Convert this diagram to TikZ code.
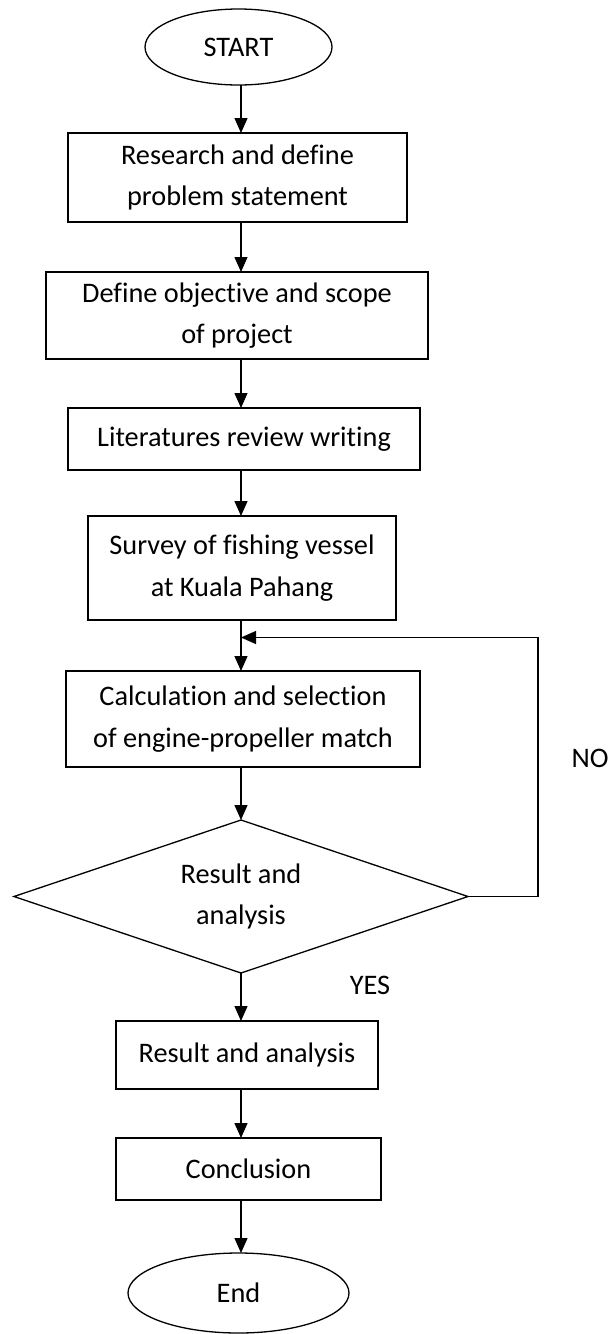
\documentclass[tikz,border=0pt]{standalone}
\usepackage{fontspec}
\setmainfont[Ligatures=CommonOff]{Carlito}
\usepackage{tikz}
\usetikzlibrary{shapes.geometric,  % ellipse, diamond
           arrows.meta,
           positioning}

\begin{document}
\begin{tikzpicture}[x=1pt,y=-1pt,
  every node/.style={font=\fontsize{28.3}{41.5}\selectfont, inner sep=0pt, outer sep=0pt},
  term/.style={draw, ellipse, line width=1.3pt},
  process/.style={draw, rectangle, line width=1.3pt, align=center},
  decide/.style={draw, diamond, aspect=3, line width=1.3pt, align=center},
  arr/.style={line width=1.3pt, -{Triangle[length=15pt,width=13pt]}}]
\useasboundingbox (0,0) rectangle (614,1334);
\coordinate (spine) at (241,0);
% les blocs
\node[term, minimum width=187pt, minimum height=76pt] (start) at (238.5,47) {START};
\node[process, minimum width=339pt, minimum height=89pt] (research) at (237.5,177.5) {Research and define\\problem statement};
\node[process, minimum width=382pt, minimum height=87pt] (objective) at (237,315.5) {Define objective and scope\\of project};
\node[process, minimum width=352pt, minimum height=62pt] (literature) at (244,439) {Literatures review writing};
\node[process, minimum width=308pt, minimum height=104pt] (survey) at (242,568) {Survey of fishing vessel\\at Kuala Pahang};
\node[process, minimum width=354pt, minimum height=96pt] (calc) at (243,719) {Calculation and selection\\of engine-propeller match};
\node[decide, minimum width=454pt, minimum height=153pt] (decision) at (241,896.5) {Result and\\analysis};
\node[process, minimum width=262pt, minimum height=68pt] (result) at (247,1055) {Result and analysis};
\node[process, minimum width=265pt, minimum height=62pt] (conclusion) at (248.5,1169) {Conclusion};
\node[term, minimum width=221pt, minimum height=80pt] (finish) at (238.5,1293) {End};
\node (no) at (590,758) {NO};
\node (yes) at (370,985) {YES};
% les fleches
\foreach \a/\b in {start/research, research/objective, objective/literature,
                   literature/survey, survey/calc, calc/decision,
                   decision/result, result/conclusion, conclusion/finish}
  \draw[arr] (spine |- \a.south) -- (spine |- \b.north);
\coordinate (merge) at (241,637.5);
\draw[arr] (decision.east) -- ++(70,0) |- (merge);
\end{tikzpicture}
\end{document}
